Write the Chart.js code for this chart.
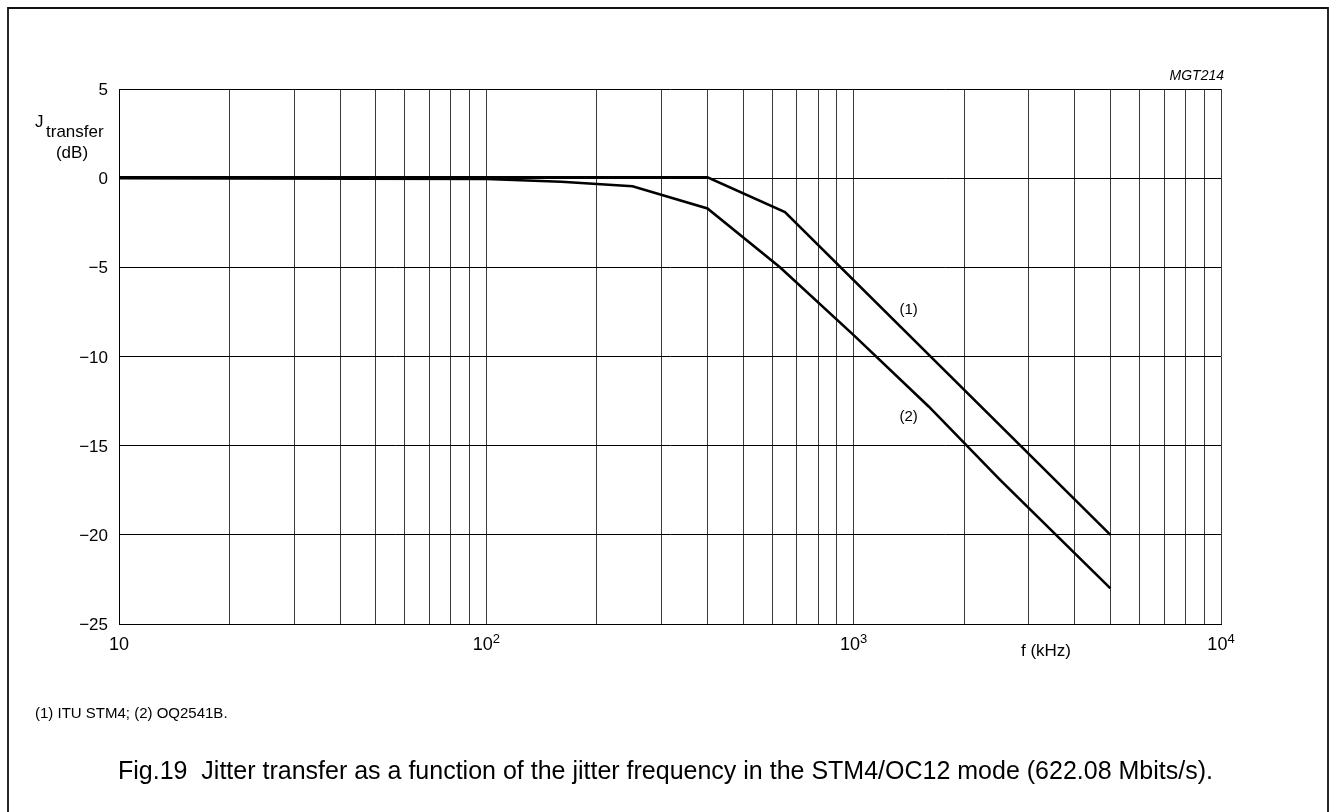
<!DOCTYPE html>
<html>
<head>
<meta charset="utf-8">
<script src="https://cdn.jsdelivr.net/npm/chart.js@4.4.1/dist/chart.umd.min.js"></script>
<style>
  html, body { margin: 0; padding: 0; background: #fff; }
  #wrap { position: relative; width: 1329px; height: 812px; }
  canvas { display: block; }
</style>
</head>
<body>
<div id="wrap"><canvas id="c" width="1329" height="812"></canvas></div>
<script>
// Jitter frequency (kHz) and jitter transfer (dB) for each curve
const freqItu   = [10, 400, 650, 5000];
const gainItu   = [0.05, 0.05, -1.9, -20];
const freqOq    = [10, 100, 160, 250, 400, 630, 1000, 1600, 2500, 5000];
const gainOq    = [0.0, -0.05, -0.2, -0.45, -1.7, -5.0, -8.8, -12.8, -16.9, -23.0];

// Axis ranges and grid ticks
const yTicks    = [5, 0, -5, -10, -15, -20, -25];
const xGrid     = [10,20,30,40,50,60,70,80,90,100,200,300,400,500,600,700,800,900,
                   1000,2000,3000,4000,5000,6000,7000,8000,9000,10000];
const xDecades  = [10, 100, 1000, 10000];
const curveTags = [
  { text: '(1)', f: 1600, db: -7.4 },
  { text: '(2)', f: 1600, db: -13.4 }
];

const toPoints = (xs, ys) => xs.map((x, i) => ({ x: x, y: ys[i] }));
const FONT = '"Liberation Sans", Arial, Helvetica, sans-serif';

const decorations = {
  id: 'decorations',
  beforeDraw(chart) {
    const ctx = chart.ctx;
    ctx.save();
    ctx.fillStyle = '#fff';
    ctx.fillRect(0, 0, chart.width, chart.height);
    // figure frame, open at the bottom
    ctx.strokeStyle = '#111';
    ctx.lineWidth = 1.8;
    ctx.beginPath();
    ctx.moveTo(8, 812);
    ctx.lineTo(8, 8);
    ctx.lineTo(1328, 8);
    ctx.lineTo(1328, 812);
    ctx.stroke();
    ctx.restore();
  },
  afterDraw(chart) {
    const ctx = chart.ctx;
    const xs = chart.scales.x, ys = chart.scales.y;
    ctx.save();
    ctx.fillStyle = '#000';
    ctx.textBaseline = 'alphabetic';

    // y tick labels
    ctx.font = '17px ' + FONT;
    ctx.textAlign = 'right';
    yTicks.forEach(v => {
      const s = v < 0 ? '\u2212' + Math.abs(v) : String(v);
      ctx.fillText(s, 108, ys.getPixelForValue(v) + 6);
    });

    // y axis title with subscript
    ctx.textAlign = 'left';
    ctx.font = '17px ' + FONT;
    ctx.fillText('J', 35, 127);
    ctx.fillText('transfer', 46, 137);
    ctx.textAlign = 'center';
    ctx.fillText('(dB)', 72, 158);

    // x decade labels with superscript exponents
    const base_y = 650;
    xDecades.forEach(v => {
      const px = xs.getPixelForValue(v);
      const exp = Math.round(Math.log10(v));
      ctx.font = '18px ' + FONT;
      if (exp === 1) {
        ctx.textAlign = 'center';
        ctx.fillText('10', px, base_y);
      } else {
        const base = '10', sup = String(exp);
        const wb = ctx.measureText(base).width;
        ctx.font = '13px ' + FONT;
        const ws = ctx.measureText(sup).width;
        const start = px - (wb + ws) / 2;
        ctx.font = '18px ' + FONT;
        ctx.textAlign = 'left';
        ctx.fillText(base, start, base_y);
        ctx.font = '13px ' + FONT;
        ctx.fillText(sup, start + wb, base_y - 7);
      }
    });

    // x axis title
    ctx.font = '17px ' + FONT;
    ctx.textAlign = 'center';
    ctx.fillText('f (kHz)', 1046, 656);

    // figure code
    ctx.font = 'italic 14px ' + FONT;
    ctx.textAlign = 'right';
    ctx.fillText('MGT214', 1224, 80);

    // curve tags
    ctx.font = '15px ' + FONT;
    ctx.textAlign = 'center';
    ctx.textBaseline = 'middle';
    curveTags.forEach(t => {
      ctx.fillText(t.text, xs.getPixelForValue(t.f) - 20, ys.getPixelForValue(t.db));
    });

    // footnote and caption
    ctx.textAlign = 'left';
    ctx.textBaseline = 'alphabetic';
    ctx.font = '15px ' + FONT;
    ctx.fillText('(1) ITU STM4; (2) OQ2541B.', 35, 718);
    ctx.font = '25px ' + FONT;
    ctx.fillText('Fig.19  Jitter transfer as a function of the jitter frequency in the STM4/OC12 mode (622.08 Mbits/s).', 118, 779);
    ctx.restore();
  }
};

new Chart(document.getElementById('c'), {
  type: 'line',
  data: {
    datasets: [
      { label: '(1) ITU STM4', data: toPoints(freqItu, gainItu) },
      { label: '(2) OQ2541B', data: toPoints(freqOq, gainOq) }
    ]
  },
  options: {
    responsive: false,
    animation: false,
    layout: { padding: { left: 119, right: 108, top: 89, bottom: 188 } },
    elements: {
      line: { borderColor: '#000', borderWidth: 2.6, tension: 0, fill: false },
      point: { radius: 0, hoverRadius: 0 }
    },
    plugins: { legend: { display: false }, tooltip: { enabled: false } },
    scales: {
      x: {
        type: 'logarithmic',
        min: 10, max: 10000,
        afterBuildTicks: s => { s.ticks = xGrid.map(v => ({ value: v })); },
        ticks: { display: false },
        grid: { color: '#3a3a3a', lineWidth: 1, drawTicks: false },
        border: { display: true, color: '#000', width: 1 }
      },
      y: {
        type: 'linear',
        min: -25, max: 5,
        afterBuildTicks: s => { s.ticks = yTicks.map(v => ({ value: v })); },
        ticks: { display: false },
        grid: { color: '#000', lineWidth: 1, drawTicks: false },
        border: { display: true, color: '#000', width: 1 }
      }
    }
  },
  plugins: [decorations]
});
</script>
</body>
</html>
